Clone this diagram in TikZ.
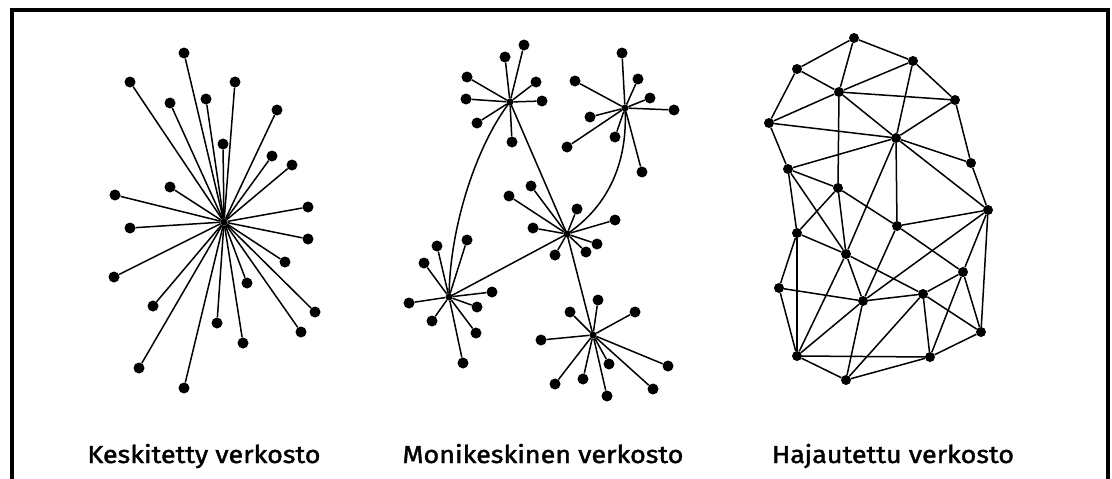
\documentclass[tikz,border=0pt]{standalone}
\usepackage{fontspec}
\newfontfamily\capfont[FakeStretch=1.1,FakeBold=1.6]{Fira Sans}
\begin{document}
\begin{tikzpicture}[x=1pt,y=-1pt,
  dot/.style={circle,fill=black,inner sep=0pt,minimum size=11pt},
  smalldot/.style={circle,fill=black,inner sep=0pt,minimum size=10pt},
  hub/.style={circle,fill=black,inner sep=0pt,minimum size=7pt},
  link/.style={black,line width=1.5pt},
  caption/.style={anchor=base,inner sep=0pt,font=\capfont\fontsize{24.5}{26}\selectfont}]
\useasboundingbox (0,0) rectangle (1112,479);
\fill[white] (0,0) rectangle (1112,479);
% frame, open at the bottom
\draw[line width=4pt] (12,479) -- (12,10) -- (1108,10) -- (1108,479);

% ---------- centralised network ----------
\node[hub] (kc) at (224,222) {};
\foreach \i/\x/\y in {1/184/53,2/130/82,3/170/103,4/206/99,5/235/82,6/277/110,
  7/223/144,8/272/156,9/292/165,10/170/187,11/115/195,12/308/207,13/130/228,
  14/308/239,15/285/262,16/114/277,17/247/283,18/153/306,19/315/312,
  20/217/323,21/301/332,22/243/343,23/139/368,24/184/388}{
  \node[dot] (k\i) at (\x,\y) {};
  \draw[link] (kc) -- (k\i);
}

% ---------- multi-centre network ----------
\node[hub] (ma) at (510,102) {};
\node[hub] (mb) at (625,108) {};
\node[hub] (mc) at (567,234) {};
\node[hub] (md) at (449,297) {};
\node[hub] (me) at (593,335) {};
\foreach \i/\x/\y in {1/524/45,2/505/57,3/467/77,4/536/82,5/466/99,6/542/101,7/477/123,8/512/142}{
  \node[dot] (ma\i) at (\x,\y) {};
  \draw[link] (ma) -- (ma\i);
}
\foreach \i/\x/\y in {1/622/53,2/575/81,3/638/79,4/650/98,5/674/110,6/590/117,7/567/147,8/615/137,9/642/172}{
  \node[dot] (mb\i) at (\x,\y) {};
  \draw[link] (mb) -- (mb\i);
}
\foreach \i/\x/\y in {1/509/196,2/531/186,3/577/209,4/615/220,5/533/228,6/597/244,7/586/252,8/555/255}{
  \node[dot] (mc\i) at (\x,\y) {};
  \draw[link] (mc) -- (mc\i);
}
\foreach \i/\x/\y in {1/437/246,2/467/240,3/424/263,4/492/292,5/409/303,6/477/307,7/432/321,8/476/333,9/463/363}{
  \node[dot] (md\i) at (\x,\y) {};
  \draw[link] (md) -- (md\i);
}
\foreach \i/\x/\y in {1/598/300,2/570/312,3/635/312,4/541/340,5/609/364,6/555/384,7/583/379,8/607/396,9/668/366,10/653/389}{
  \node[dot] (me\i) at (\x,\y) {};
  \draw[link] (me) -- (me\i);
}
\draw[link] (ma.center) -- (mc.center);
\draw[link] (mc.center) -- (md.center);
\draw[link] (mc.center) -- (me.center);
\draw[link] (ma.center) .. controls (480,140) and (450,220) .. (md.center);
\draw[link] (mb.center) .. controls (628,160) and (610,205) .. (mc.center);

% ---------- distributed network ----------
\foreach \i/\x/\y in {1/854/38,2/913/61,3/797/69,4/839/92,5/955/100,6/769/123,
  7/896/138,8/971/163,9/788/169,10/838/188,11/988/210,12/897/226,13/797/233,
  14/846/254,15/963/272,16/779/288,17/923/294,18/863/301,19/981/332,
  20/797/356,21/930/357,22/846/380}{
  \node[smalldot] (h\i) at (\x,\y) {};
}
\foreach \a/\b in {1/2,1/3,1/4,2/4,2/5,2/7,3/4,3/6,4/5,4/6,4/7,4/10,5/7,5/8,
  6/7,6/9,7/8,7/9,7/11,7/12,7/14,8/11,9/10,9/13,9/14,10/12,10/13,10/14,
  11/12,11/15,11/18,11/19,12/15,12/18,13/14,13/16,13/20,14/17,14/18,14/20,
  15/17,15/19,15/21,16/18,16/20,17/18,17/19,17/21,17/22,18/20,18/22,
  19/21,20/21,20/22,21/22}{
  \draw[link] (h\a) -- (h\b);
}

% ---------- captions ----------
\node[caption] (t1) at (204,463) {Keskitetty verkosto};
\node[caption] (t2) at (543,463) {Monikeskinen verkosto};
\node[caption] (t3) at (893,463) {Hajautettu verkosto};
\end{tikzpicture}
\end{document}
